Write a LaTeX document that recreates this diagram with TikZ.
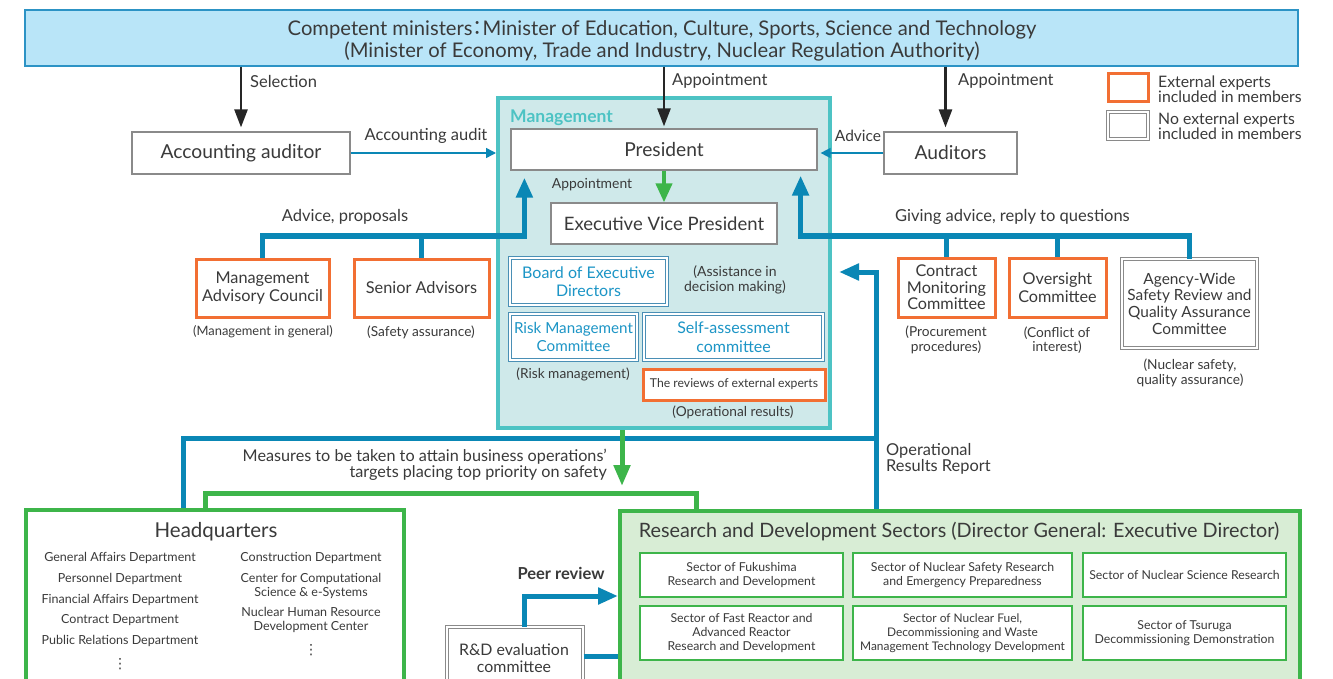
\documentclass[tikz,border=0pt]{standalone}
\usepackage{fontspec}
\setmainfont{Lato}
\newfontfamily\cjk{Noto Sans CJK JP}
\newfontfamily\dv{DejaVu Sans}
\usetikzlibrary{arrows.meta,calc}
\definecolor{txt}{HTML}{3A3A3A}
\definecolor{cblue}{HTML}{0A87B5}
\definecolor{corange}{HTML}{F26F33}
\definecolor{cgreen}{HTML}{3DB54A}
\definecolor{cteal}{HTML}{4DC3C4}
\definecolor{mfill}{HTML}{CFE9EA}
\definecolor{rfill}{HTML}{D8EDD5}
\definecolor{topfill}{HTML}{B9E5F8}
\definecolor{topdraw}{HTML}{2C93C5}
\definecolor{gbord}{HTML}{8A8A8A}
\definecolor{bbord}{HTML}{4A8FB5}
\definecolor{btxt}{HTML}{1C95C6}
\newcommand\fs[2]{\fontsize{#1}{#2}\selectfont}
\begin{document}
\begin{tikzpicture}[x=1pt,y=-1pt,
  every node/.style={text=txt,inner sep=0pt},
  lbl/.style={font=\fs{16.5}{18}},
  sub/.style={font=\fs{13.7}{14.5},align=center},
  wbox/.style={draw=gbord,line width=1.2pt,fill=white,align=center},
  obox/.style={draw=corange,line width=3pt,fill=white,align=center},
  gbox/.style={draw=gbord,double=white,double distance=1.6pt,line width=1pt,fill=white,align=center},
  bbox/.style={draw=bbord,double=white,double distance=1.4pt,line width=1pt,fill=white,align=center,text=btxt,font=\fs{16}{18.5}},
  sbox/.style={draw=cgreen,line width=2pt,fill=white,align=center,font=\fs{12.3}{14}},
  hqitem/.style={font=\fs{12.5}{14},align=center},
  dots/.style={font=\dv\fs{14}{14}},
  blk/.style={draw=black!85,line width=2.5pt,-{Triangle[length=18pt,width=13pt]}},
  bthin/.style={draw=cblue,line width=1.5pt,-{Triangle[length=10pt,width=10pt]}},
  bthick/.style={draw=cblue,line width=5pt},
  btip/.style={-{Triangle[length=20pt,width=16pt]}},
  gthick/.style={draw=cgreen,line width=5pt},
  gtip/.style={-{Triangle[length=21pt,width=16pt]}},
]
\useasboundingbox (0,0) rectangle (1333,679);
\fill[white] (0,0) rectangle (1333,679);
\clip (0,0) rectangle (1333,679);

% top box
\node[draw=topdraw,line width=1.5pt,fill=topfill,minimum width=1273,minimum height=56] (top) at (661.5,38) {};
\node[align=center,font=\fs{20.2}{22}] (topt) at (662,41)
  {Competent ministers\hspace{-0.25em}{\cjk ：}\hspace{-0.25em}Minister of Education, Culture, Sports, Science and Technology\\(Minister of Economy, Trade and Industry, Nuclear Regulation Authority)};

% legend
\node[obox,minimum width=40,minimum height=28] (lg1) at (1128,88) {};
\node[gbox,minimum width=40,minimum height=27] (lg2) at (1128,125.5) {};
\node[anchor=west,align=left,font=\fs{15.8}{14.3}] (lg1t) at (1158,89) {External experts\\included in members};
\node[anchor=west,align=left,font=\fs{15.8}{14.3}] (lg2t) at (1158,126) {No external experts\\included in members};

% management block
\node[draw=cteal,line width=4pt,fill=mfill,minimum width=332,minimum height=330] (mgmt) at (664,263) {};
\node[anchor=west,text=cteal,font=\bfseries\fs{17.5}{19}] (mgl) at (510,118) {Management};
\node[wbox,minimum width=306,minimum height=41,font=\fs{19.2}{21}] (pres) at (664,149.5) {President};
\node[wbox,minimum width=226,minimum height=41,font=\fs{18.5}{21}] (evp) at (664,223.5) {Executive Vice President};
\node[bbox,minimum width=157,minimum height=47] (board) at (588.5,281.5) {Board of Executive\\Directors};
\node[bbox,minimum width=127,minimum height=46,font=\fs{15.2}{18.5}] (risk) at (573.5,337) {Risk Management\\Committee};
\node[bbox,minimum width=179,minimum height=46] (self) at (733.5,337) {Self-assessment\\committee};
\node[obox,minimum width=182,minimum height=31,font=\fs{12.2}{14}] (rev) at (734,384.5) {The reviews of external experts};
\node[sub,font=\fs{14}{15}] (board-s) at (735,280) {(Assistance in\\decision making)};
\node[sub] (risk-s) at (573,374) {(Risk management)};
\node[sub] (rev-s) at (733,412) {(Operational results)};

% side boxes
\node[wbox,minimum width=218,minimum height=42,font=\fs{19.2}{21}] (acc) at (241,153) {Accounting auditor};
\node[wbox,minimum width=133,minimum height=42,font=\fs{19.2}{21}] (aud) at (950.5,153) {Auditors};
\node[obox,minimum width=133,minimum height=58,font=\fs{16.3}{17.5}] (mac) at (262.5,288) {Management\\Advisory Council};
\node[obox,minimum width=135,minimum height=58,font=\fs{16.3}{17.5}] (sen) at (421.5,288) {Senior Advisors};
\node[obox,minimum width=97,minimum height=59,font=\fs{16.2}{16.5}] (cmc) at (946.5,287.5) {Contract\\Monitoring\\Committee};
\node[obox,minimum width=97,minimum height=59,font=\fs{16.2}{17.5}] (ovs) at (1057.5,287.5) {Oversight\\Committee};
\node[gbox,minimum width=135,minimum height=89,font=\fs{15.4}{16.7}] (aw) at (1189.5,303.5) {Agency-Wide\\Safety Review and\\Quality Assurance\\Committee};
\node[sub,font=\fs{12.9}{14}] (mac-s) at (263,332) {(Management in general)};
\node[sub] (sen-s) at (421,332) {(Safety assurance)};
\node[sub] (cmc-s) at (946,340) {(Procurement\\procedures)};
\node[sub] (ovs-s) at (1057,340) {(Conflict of\\interest)};
\node[sub] (aw-s) at (1190,373) {(Nuclear safety,\\quality assurance)};

% labels
\node[lbl,anchor=west] (l-sel) at (250,81) {Selection};
\node[lbl,anchor=west] (l-app1) at (672,81) {Appointment};
\node[lbl,anchor=west] (l-app2) at (958,81) {Appointment};
\node[lbl] (l-acc) at (426,136) {Accounting audit};
\node[lbl,font=\fs{15.5}{18}] (l-adv) at (858,136) {Advice};
\node[font=\fs{13.9}{15}] (l-app3) at (592,185) {Appointment};
\node[lbl] (l-advp) at (345,217) {Advice, proposals};
\node[lbl,anchor=west] (l-give) at (895,217) {Giving advice, reply to questions};
\node[lbl,anchor=east,align=right,font=\fs{16.2}{16}] (l-meas) at (607,465) {Measures to be taken to attain business operations’\\targets placing top priority on safety};
\node[lbl,anchor=west,align=left,font=\fs{16.4}{16}] (l-ops) at (886,459) {Operational\\Results Report};
\node[lbl,font=\bfseries\fs{16.5}{18}] (l-peer) at (561,573) {Peer review};

% lower blocks
\node[draw=cgreen,line width=4pt,fill=white,minimum width=378,minimum height=200] (hq) at (215,610) {};
\node[draw=cgreen,line width=4pt,fill=rfill,minimum width=680,minimum height=200] (rd) at (960,611) {};
\node[font=\fs{20.5}{22}] (hqt) at (216,532) {Headquarters};
\node[font=\fs{19.8}{22}] (rdt) at (959,532) {Research and Development Sectors (Director General: Executive Director)};

\node[hqitem] (h1) at (120,558) {General Affairs Department};
\node[hqitem] (h2) at (120,579) {Personnel Department};
\node[hqitem] (h3) at (120,600) {Financial Affairs Department};
\node[hqitem] (h4) at (120,620) {Contract Department};
\node[hqitem] (h5) at (120,641) {Public Relations Department};
\node[dots] (h6) at (120,664) {⋮};
\node[hqitem] (h7) at (311,558) {Construction Department};
\node[hqitem] (h8) at (311,586) {Center for Computational\\Science \& e-Systems};
\node[hqitem] (h9) at (311,620) {Nuclear Human Resource\\Development Center};
\node[dots] (h10) at (311,650) {⋮};

\node[sbox,minimum width=203,minimum height=44] (s1) at (741.5,575) {Sector of Fukushima\\Research and Development};
\node[sbox,minimum width=219,minimum height=44] (s2) at (962.5,575) {Sector of Nuclear Safety Research\\and Emergency Preparedness};
\node[sbox,minimum width=203,minimum height=44] (s3) at (1184.5,575) {Sector of Nuclear Science Research};
\node[sbox,minimum width=203,minimum height=54] (s4) at (741.5,633) {Sector of Fast Reactor and\\Advanced Reactor\\Research and Development};
\node[sbox,minimum width=219,minimum height=54,font=\fs{11.9}{14}] (s5) at (962.5,633) {Sector of Nuclear Fuel,\\Decommissioning and Waste\\Management Technology Development};
\node[sbox,minimum width=203,minimum height=54] (s6) at (1184.5,633) {Sector of Tsuruga\\Decommissioning Demonstration};

\node[gbox,minimum width=136,minimum height=80] (rde) at (515,667) {};
\node[font=\fs{15.9}{17.5},align=center] (rdet) at (514,658) {R\&D evaluation\\committee};

% connectors: black
\draw[blk,shorten >=4pt] (top.south -| acc.north) -- (acc.north);
\draw[blk,shorten >=2pt] (top.south -| pres.north) -- (pres.north);
\draw[blk,shorten >=4pt] ([xshift=-5pt]top.south -| aud.north) -- ([xshift=-5pt]aud.north);

% thin blue
\draw[bthin] (acc.east) -- (mgmt.west |- acc.east);
\draw[bthin] (aud.west) -- ([xshift=3pt]pres.east |- aud.west);

% green appointment
\draw[draw=cgreen,line width=4pt,-{Triangle[length=19pt,width=16pt]}] (pres.south) -- (evp.north);

% thick blue advice
\draw[bthick,btip,shorten >=7pt] (mac.north) -- (mac.north |- 0,236) -| ([xshift=14pt]pres.south west);
\draw[bthick] (sen.north) -- (sen.north |- 0,236);
\draw[bthick,btip,shorten >=5pt] (aw.north) -- (aw.north |- 0,236) -| ([xshift=-17pt]pres.south east);
\draw[bthick] (cmc.north) -- (cmc.north |- 0,236);
\draw[bthick] (ovs.north) -- (ovs.north |- 0,236);

% operational results report
\draw[bthick,btip,shorten >=7pt] (rd.north -| 876,0) -- (876,272) -- (mgmt.east |- 0,272);
\draw[bthick] (hq.north -| 183,0) -- (183,438.5) -- (876,438.5);

% measures (green)
\draw[draw=cgreen,line width=5pt,gtip] (mgmt.south -| 622,0) -- (622,486);
\draw[gthick] (hq.north -| 205,0) -- (205,493) -- (696,493) -- (rd.north -| 696,0);

% peer review
\draw[bthick,btip] (rde.north -| 524,0) |- (rd.west |- 0,596);
\draw[bthick] (rde.east |- 0,656) -- (rd.west |- 0,656);
\end{tikzpicture}
\end{document}
